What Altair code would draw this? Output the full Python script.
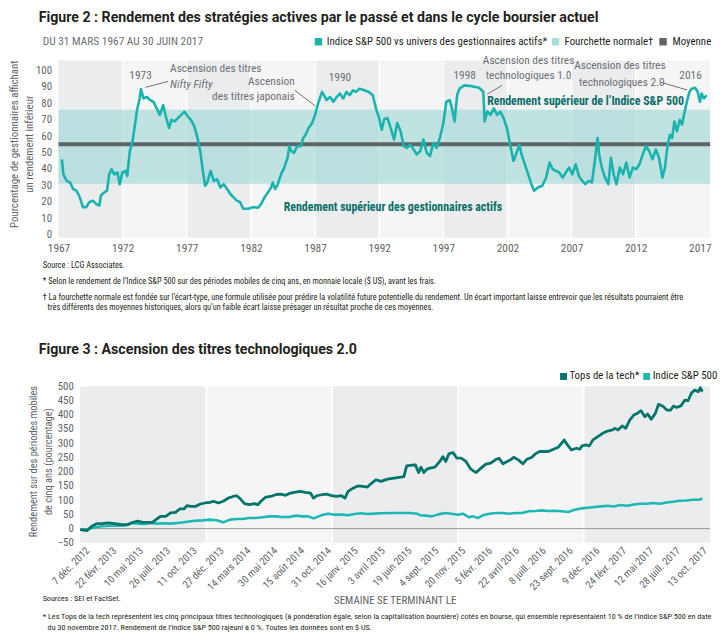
import json
import datetime as dt
import altair as alt
import pandas as pd

# ---------------- fonts / colours ----------------
NARROW = "Liberation Sans Narrow, Roboto Condensed, DejaVu Sans Condensed, Arial Narrow, sans-serif"
HEAD = "Roboto, Liberation Sans, Arial, sans-serif"
INK = "#231f20"
GRAY = "#5f6469"
ANN = "#6b7076"
TEAL = "#19b3ad"
TEAL_TXT = "#0a6e68"
TECH = "#00756b"
SPX = "#1db8b3"
BG_DARK = "#ebecee"
BG_LIGHT = "#f5f5f5"
BAND = "#93d3d1"
MEAN_C = "#5f6469"

# ---------------- Figure 2 data ----------------
fig2_years = [
    1967.26, 1967.38, 1967.64, 1967.90, 1968.15, 1968.40, 1968.66, 1968.90, 1969.17, 1969.40,
    1969.68, 1969.93, 1970.19, 1970.30, 1970.57, 1970.78, 1970.95, 1971.13, 1971.34, 1971.60,
    1971.77, 1971.98, 1972.23, 1972.36, 1972.56, 1972.77, 1973.00, 1973.12, 1973.33, 1973.43,
    1973.63, 1973.89, 1974.14, 1974.40, 1974.65, 1974.90, 1975.16, 1975.37, 1975.62, 1975.80,
    1976.06, 1976.31, 1976.57, 1976.82, 1977.08, 1977.33, 1977.59, 1977.84, 1978.05, 1978.22,
    1978.43, 1978.60, 1978.86, 1979.10, 1979.37, 1979.62, 1979.88, 1980.14, 1980.40, 1980.65,
    1980.90, 1981.16, 1981.40, 1981.80, 1982.17, 1982.56, 1982.80, 1983.07, 1983.33, 1983.58,
    1983.70, 1983.89, 1984.10, 1984.35, 1984.60, 1984.86, 1985.00, 1985.16, 1985.37, 1985.60,
    1985.88, 1986.08, 1986.26, 1986.50, 1986.77, 1987.00, 1987.28, 1987.55, 1987.70, 1987.90,
    1988.17, 1988.43, 1988.70, 1988.93, 1989.20, 1989.45, 1989.70, 1989.96, 1990.20, 1990.47,
    1990.85, 1991.20, 1991.50, 1991.75, 1992.00, 1992.20, 1992.40, 1992.65, 1992.90, 1993.16,
    1993.41, 1993.67, 1993.92, 1994.18, 1994.43, 1994.69, 1994.94, 1995.20, 1995.45, 1995.71,
    1995.96, 1996.22, 1996.47, 1996.73, 1996.98, 1997.24, 1997.50, 1997.67, 1997.88, 1998.08,
    1998.26, 1998.64, 1999.03, 1999.41, 1999.79, 2000.12, 2000.22, 2000.43, 2000.68, 2000.94,
    2001.20, 2001.45, 2001.70, 2001.96, 2002.21, 2002.47, 2002.67, 2002.93, 2003.10, 2003.36,
    2003.62, 2003.87, 2004.08, 2004.38, 2004.72, 2005.02, 2005.28, 2005.53, 2005.79, 2006.04,
    2006.30, 2006.55, 2006.81, 2007.06, 2007.32, 2007.57, 2007.83, 2008.08, 2008.34, 2008.59,
    2008.85, 2009.03, 2009.15, 2009.36, 2009.61, 2009.87, 2010.07, 2010.28, 2010.50, 2010.76,
    2011.01, 2011.27, 2011.52, 2011.78, 2012.04, 2012.29, 2012.55, 2012.80, 2013.06, 2013.31,
    2013.57, 2013.82, 2014.08, 2014.28, 2014.46, 2014.66, 2014.84, 2015.02, 2015.22, 2015.43,
    2015.61, 2015.79, 2015.99, 2016.19, 2016.37, 2016.63, 2016.83, 2017.01, 2017.14, 2017.32,
    2017.52,
]
fig2_values = [
    45.8, 36.7, 32.7, 31.7, 27.7, 26.7, 22.7, 16.7, 16.7, 19.7,
    20.7, 18.7, 17.7, 23.7, 25.7, 26.7, 36.7, 39.8, 36.7, 37.8,
    30.7, 37.8, 38.8, 35.7, 50.8, 56.8, 68.9, 75.9, 82.9, 88.6,
    82.9, 83.9, 81.9, 80.9, 76.9, 72.9, 78.9, 71.9, 64.9, 69.9,
    68.9, 70.9, 72.9, 74.9, 71.9, 69.9, 65.9, 58.8, 50.8, 40.8,
    29.7, 31.7, 38.8, 32.7, 33.7, 28.7, 30.7, 27.7, 24.7, 22.7,
    20.7, 19.7, 15.7, 15.7, 16.7, 16.3, 18.7, 22.7, 25.7, 28.7,
    31.7, 27.7, 30.7, 36.7, 40.8, 46.8, 53.8, 50.8, 49.8, 53.8,
    53.8, 58.8, 60.8, 64.9, 67.9, 72.9, 80.9, 86.9, 84.9, 81.9,
    83.9, 80.9, 83.9, 85.9, 82.9, 86.9, 84.9, 87.9, 86.9, 88.9,
    87.9, 86.9, 84.9, 76.9, 70.9, 63.9, 70.4, 70.9, 64.9, 57.8,
    67.9, 62.9, 53.8, 52.8, 54.8, 51.8, 48.8, 50.8, 57.8, 49.8,
    47.8, 55.8, 52.8, 58.8, 66.9, 80.9, 81.9, 76.9, 68.9, 84.9,
    88.9, 90.9, 90.6, 90.0, 89.4, 87.0, 68.9, 74.9, 72.9, 76.9,
    72.9, 74.9, 70.9, 64.9, 54.8, 44.8, 48.8, 54.8, 48.8, 42.8,
    36.7, 30.7, 26.7, 28.7, 29.7, 34.7, 43.8, 39.8, 38.8, 37.8,
    34.7, 37.8, 40.8, 36.7, 42.8, 35.7, 32.7, 30.7, 32.7, 31.7,
    46.8, 58.8, 48.8, 40.8, 34.7, 30.7, 46.8, 36.7, 30.7, 40.8,
    36.7, 43.8, 34.7, 40.8, 39.8, 42.8, 48.8, 53.8, 50.8, 45.8,
    51.8, 46.8, 34.7, 40.8, 52.8, 60.8, 58.8, 68.9, 62.9, 69.9,
    66.9, 73.9, 80.9, 86.9, 88.9, 89.4, 87.0, 80.9, 85.9, 82.9,
    84.9,
]
band_edges = [1967, 1972, 1977, 1982, 1987, 1992, 1997, 2002, 2007, 2012, 2017.8]
band_shades = ["sombre", "clair"] * 5
normal_low, normal_high = 31, 76
mean_value = 55
year_ticks = [1967, 1972, 1977, 1982, 1987, 1992, 1997, 2002, 2007, 2012, 2017]
pct_ticks = [0, 10, 20, 30, 40, 50, 60, 70, 80, 90, 100]

# annotations (year, value)
ann_center = [
    ("1973", 1973.40, 96.4), ("1990", 1988.94, 95.2), ("1998", 1998.67, 96.4),
    ("Ascension des titres", 2003.65, 106.0), ("technologiques 1.0", 2003.65, 96.4),
    ("Ascension des titres", 2010.77, 102.4), ("technologiques 2.0", 2010.92, 92.1),
    ("2016", 2016.28, 96.4),
]
ann_left = [("Ascension des titres", 1975.70, 100.6)]
ann_italic = [("Nifty Fifty", 1975.70, 90.9)]
ann_right = [("Ascension", 1985.42, 92.7), ("des titres japonais", 1985.42, 83.7)]
ann_bold = [
    ("Rendement supérieur de l’Indice S&P 500", 2008.09, 81.3),
    ("Rendement supérieur des gestionnaires actifs", 1993.08, 16.7),
]
pointers = [
    (1973.78, 89.7, 1975.55, 93.3),
    (1985.42, 87.9, 1987.03, 78.3),
    (2000.43, 85.5, 2001.58, 90.9),
    (2013.96, 92.8, 2016.00, 88.1),
]

# ---------------- Figure 3 data ----------------
fig3_start = dt.date(2012, 11, 16)
tech_days = [
    0, 19, 33, 47, 61, 80, 99, 118, 136, 151, 165, 179, 193, 207, 217, 230, 245, 259, 273, 285,
    297, 306, 316, 330, 344, 358, 372, 382, 396, 410, 424, 438, 448, 457, 471, 485, 499, 509, 518, 532,
    546, 560, 575, 589, 603, 617, 631, 645, 660, 669, 678, 693, 707, 721, 735, 749, 759, 768, 782, 796,
    810, 823, 836, 848, 862, 881, 900, 919, 928, 936, 952, 961, 970, 977, 985, 994, 1003, 1017, 1031, 1040,
    1048, 1057, 1069, 1080, 1092, 1106, 1120, 1135, 1149, 1163, 1177, 1190, 1201, 1212, 1224, 1234, 1243, 1256, 1269, 1281,
    1295, 1305, 1317, 1330, 1342, 1357, 1371, 1388, 1397, 1408, 1423, 1432, 1439, 1451, 1460, 1470, 1484, 1498, 1512, 1526,
    1533, 1542, 1554, 1564, 1576, 1587, 1597, 1608, 1619, 1627, 1637, 1649, 1658, 1670, 1682, 1693, 1701, 1710, 1722, 1734,
    1743, 1753, 1762, 1772, 1778, 1784,
]
tech_values = [
    -3.5, -7, 8, 17.5, 17.5, 20, 17.5, 14, 14, 22, 26, 22, 22, 22, 31.5, 43, 43, 55, 57, 69,
    69, 80.5, 78, 78, 86.5, 90, 92, 96, 90, 96, 107, 113, 115.5, 107, 87.5, 84, 87.5, 84, 96, 111,
    113, 119, 121, 117, 125, 128, 131, 127, 125, 107, 115.5, 119, 121, 115.5, 113, 115.5, 107, 131, 142, 150,
    148, 146, 160, 171.6, 166, 174, 177.5, 181, 183, 220.7, 223, 224, 197, 216, 197, 209, 212.5, 216, 236, 253,
    236, 263, 267, 247.5, 247.5, 236, 209, 197, 212.5, 226.5, 230, 241.7, 247.5, 227.7, 236, 241.7, 251, 241.7, 227.7, 244,
    251, 262.7, 271, 271, 271, 279, 286, 311.7, 294, 276.7, 282.5, 279, 290.7, 294, 290.7, 311.7, 323, 335, 343, 346.8,
    352.6, 346.8, 360.8, 352.6, 381.8, 399, 405, 414.5, 393.5, 402.8, 384, 405, 436.7, 430.8, 416.8, 416.8, 430.8, 426, 430.8, 451.8,
    449.5, 477.5, 486.9, 481, 495, 481,
]
spx_days = [
    0, 19, 33, 61, 90, 118, 132, 146, 165, 184, 203, 221, 240, 259, 278, 297, 316, 334, 353, 372,
    391, 410, 429, 448, 466, 485, 504, 523, 542, 560, 579, 598, 617, 636, 654, 669, 683, 697, 711, 730,
    749, 768, 786, 805, 824, 843, 862, 890, 919, 947, 966, 975, 994, 1008, 1027, 1046, 1065, 1083, 1097, 1114,
    1126, 1140, 1154, 1173, 1192, 1211, 1229, 1248, 1267, 1286, 1305, 1323, 1342, 1361, 1380, 1399, 1417, 1436, 1455, 1474,
    1493, 1512, 1530, 1549, 1568, 1587, 1606, 1624, 1643, 1662, 1681, 1700, 1719, 1737, 1756, 1775, 1784,
]
spx_values = [
    -3.5, -3.5, 2, 8, 10.5, 10.5, 11.7, 20, 17.5, 16, 20, 17.5, 18.7, 17.5, 20, 22, 26, 28, 29, 31.5,
    29, 22, 31.5, 34, 34, 37, 37, 40, 43, 43, 41, 41, 45.5, 43, 43, 36, 43, 49, 52.5, 49,
    49, 46.7, 51.4, 53.7, 51.4, 52.5, 54, 55, 55, 55, 52.5, 46.7, 45.5, 43, 50, 55, 52.5, 49, 52.5, 40,
    43, 37, 46.7, 52.5, 55, 55, 52.5, 55, 55, 60.7, 62, 64, 62, 63, 60.7, 58.4, 66.5, 71, 73.5, 76,
    78, 80.5, 78, 83, 80.5, 85, 87.5, 87.5, 90, 87.5, 92, 94.6, 98, 99, 101.6, 101.6, 106,
]
fig3_band_edges = ["2012-11-16", "2013-11-12", "2014-11-08", "2015-11-04", "2016-10-30", "2017-10-27"]
fig3_band_shades = ["sombre", "clair", "sombre", "clair", "sombre"]
week_ticks = [
    "2012-12-07", "2013-02-22", "2013-05-10", "2013-07-26", "2013-10-11", "2013-12-27",
    "2014-03-14", "2014-05-30", "2014-08-15", "2014-10-31", "2015-01-16", "2015-04-03",
    "2015-06-19", "2015-09-04", "2015-11-20", "2016-02-05", "2016-04-22", "2016-07-08",
    "2016-09-23", "2016-12-09", "2017-02-24", "2017-05-12", "2017-07-28", "2017-10-13",
]
month_abbr = ["janv.", "févr.", "mars", "avril", "mai", "juin", "juill.", "août", "sept.", "oct.", "nov.", "déc."]
ret_ticks = [-50, 0, 50, 100, 150, 200, 250, 300, 350, 400, 450, 500]

assert len(fig2_years) == len(fig2_values)
assert len(tech_days) == len(tech_values)
assert len(spx_days) == len(spx_values)


def ms(s):
    d = dt.datetime.strptime(s, "%Y-%m-%d").replace(tzinfo=dt.timezone.utc)
    return int(d.timestamp() * 1000)


def iso(days):
    return [(fig3_start + dt.timedelta(days=d)).isoformat() for d in days]


def ptext(s, x, y, size=11, color=INK, weight="normal", align="left", font=NARROW, angle=0, style="normal"):
    return alt.Chart(alt.Data(values=[{"t": s}])).mark_text(
        align=align, baseline="middle", fontSize=size, color=color, fontWeight=weight,
        font=font, angle=angle, fontStyle=style,
    ).encode(x=alt.value(x), y=alt.value(y), text="t:N")


def psquare(x, y, color, size=56):
    return alt.Chart(alt.Data(values=[{"t": 1}])).mark_square(size=size, color=color, opacity=1).encode(
        x=alt.value(x), y=alt.value(y))


NOTE2 = 8.4
NOTE3 = 8.2

# ================= Figure 2 =================
W1, H1 = 658, 179
xs1 = alt.Scale(domain=[1967, 2017.8], nice=False, zero=False)
ys1 = alt.Scale(domain=[-2, 106], nice=False, zero=False)
XA1 = alt.Axis(values=year_ticks, format="d", title=None, ticks=False, domain=False, grid=False,
               labelFont=NARROW, labelFontSize=11.5, labelColor=GRAY, labelPadding=5,
               labelFlush=False, labelOverlap=False)
YA1 = alt.Axis(values=pct_ticks, title=None, ticks=False, domain=False, grid=False,
               labelFont=NARROW, labelFontSize=11, labelColor=GRAY, labelPadding=7)


def X1(f):
    return alt.X(f, scale=xs1, axis=XA1)


def Y1(f):
    return alt.Y(f, scale=ys1, axis=YA1)


df_b1 = pd.DataFrame({"start": band_edges[:-1], "end": band_edges[1:], "shade": band_shades})
df_sep1 = pd.DataFrame({"year": band_edges[1:-1]})
df_norm = pd.DataFrame({"x0": [band_edges[0]], "x1": [band_edges[-1]], "lo": [normal_low], "hi": [normal_high]})
df_mean = pd.DataFrame({"v": [mean_value]})
df_line1 = pd.DataFrame({"year": fig2_years, "value": fig2_values})
df_ptr = pd.DataFrame(pointers, columns=["x0", "y0", "x1", "y1"])

shade_scale = alt.Scale(domain=["sombre", "clair"], range=[BG_DARK, BG_LIGHT])

bands1 = alt.Chart(df_b1).mark_rect().encode(
    x=X1("start:Q"), x2="end:Q",
    y=alt.value(0), y2=alt.value(H1),
    color=alt.Color("shade:N", scale=shade_scale, legend=None),
)
sep1 = alt.Chart(df_sep1).mark_rule(color="white", strokeWidth=1.5).encode(x=X1("year:Q"))
norm = alt.Chart(df_norm).mark_rect(color=BAND, opacity=0.55).encode(
    x=X1("x0:Q"), x2="x1:Q", y=Y1("lo:Q"), y2="hi:Q")
mean = alt.Chart(df_mean).mark_rule(color=MEAN_C, strokeWidth=4).encode(y=Y1("v:Q"))
line1 = alt.Chart(df_line1).mark_line(color=TEAL, strokeWidth=2.6, strokeJoin="round").encode(
    x=X1("year:Q"), y=Y1("value:Q"))
ptr = alt.Chart(df_ptr).mark_rule(color=ANN, strokeWidth=1).encode(
    x=X1("x0:Q"), x2="x1:Q", y=Y1("y0:Q"), y2="y1:Q")


def ann_layer(rows, align, size=11.5, color=ANN, weight="normal", style="normal"):
    df = pd.DataFrame(rows, columns=["t", "x", "y"])
    return alt.Chart(df).mark_text(
        align=align, baseline="middle", font=NARROW, fontSize=size, color=color,
        fontWeight=weight, fontStyle=style,
    ).encode(x=X1("x:Q"), y=Y1("y:Q"), text="t:N")


fig2_layers = [
    bands1, sep1, norm, mean, line1, ptr,
    ann_layer(ann_center, "center"),
    ann_layer(ann_left, "left"),
    ann_layer(ann_italic, "left", style="italic"),
    ann_layer(ann_right, "right"),
    ann_layer(ann_bold, "center", size=12, color=TEAL_TXT, weight="bold"),
    # outside texts
    ptext("Figure 2 : Rendement des stratégies actives par le passé et dans le cycle boursier actuel",
          -20, -43, size=14.3, weight="bold", font=HEAD),
    ptext("DU 31 MARS 1967 AU 30 JUIN 2017", -16, -19, size=11.5, color=ANN),
    psquare(262.5, -19, TEAL),
    ptext("Indice S&P 500 vs univers des gestionnaires actifs*", 271, -19, size=11),
    psquare(502, -19, "#a9dcda"),
    ptext("Fourchette normale†", 511, -19, size=11),
    psquare(610.5, -19, MEAN_C),
    ptext("Moyenne", 620, -19, size=11),
    ptext("Pourcentage de gestionnaires affichant", -44, 84.5, size=11, color=GRAY, align="center", angle=270),
    ptext("un rendement inférieur", -28.5, 84.5, size=11, color=GRAY, align="center", angle=270),
    ptext("Source : LCG Associates.", -16, 206, size=NOTE2),
    ptext("* Selon le rendement de l’Indice S&P 500 sur des périodes mobiles de cinq ans, en monnaie locale ($ US), avant les frais.",
          -16, 223, size=NOTE2),
    ptext("† La fourchette normale est fondée sur l’écart-type, une formule utilisée pour prédire la volatilité future potentielle du rendement. Un écart important laisse entrevoir que les résultats pourraient être",
          -16, 239, size=NOTE2),
    ptext("très différents des moyennes historiques, alors qu’un faible écart laisse présager un résultat proche de ces moyennes.",
          -11, 249, size=NOTE2),
]
fig2 = alt.layer(*fig2_layers).properties(width=W1, height=H1)

# ================= Figure 3 =================
W2, H2 = 658, 158
xs2 = alt.Scale(type="utc", domain=[ms(fig3_band_edges[0]), ms(fig3_band_edges[-1])], range=[22, W2], nice=False)
ys2 = alt.Scale(domain=[-50, 500], nice=False, zero=False)

label_expr = (
    "utcdate(datum.value) + ' ' + " + json.dumps(month_abbr, ensure_ascii=False)
    + "[utcmonth(datum.value)] + ' ' + utcyear(datum.value)"
)
XA2 = alt.Axis(values=[ms(s) for s in week_ticks], labelExpr=label_expr, labelAngle=315,
               labelAlign="right", labelBaseline="middle", labelPadding=6,
               labelFont=NARROW, labelFontSize=10.5, labelColor=GRAY, title=None,
               ticks=False, domain=False, grid=False, labelFlush=False, labelOverlap=False)
YA2 = alt.Axis(values=ret_ticks, offset=-22, title=None, ticks=False, domain=False, grid=False,
               labelFont=NARROW, labelFontSize=11, labelColor=GRAY, labelPadding=7)


def X2(f):
    return alt.X(f, scale=xs2, axis=XA2)


def Y2(f):
    return alt.Y(f, scale=ys2, axis=YA2)


df_b2 = pd.DataFrame({"start": fig3_band_edges[:-1], "end": fig3_band_edges[1:], "shade": fig3_band_shades})
df_sep2 = pd.DataFrame({"d": fig3_band_edges[1:-1]})
df_zero = pd.DataFrame({"v": [0], "a": [fig3_band_edges[0]], "b": [fig3_band_edges[-1]]})
df_tech = pd.DataFrame({"date": iso(tech_days), "value": tech_values})
df_spx = pd.DataFrame({"date": iso(spx_days), "value": spx_values})

bands2 = alt.Chart(df_b2).mark_rect().encode(
    x=X2("start:T"), x2="end:T",
    y=alt.value(0), y2=alt.value(H2),
    color=alt.Color("shade:N", scale=shade_scale, legend=None),
)
sep2 = alt.Chart(df_sep2).mark_rule(color="white", strokeWidth=1.5).encode(x=X2("d:T"))
zero = alt.Chart(df_zero).mark_rule(color="#9a9a9a", strokeWidth=1).encode(
    x=X2("a:T"), x2="b:T", y=Y2("v:Q"))
spx_line = alt.Chart(df_spx).mark_line(color=SPX, strokeWidth=2.6, strokeJoin="round").encode(
    x=X2("date:T"), y=Y2("value:Q"))
tech_line = alt.Chart(df_tech).mark_line(color=TECH, strokeWidth=2.8, strokeJoin="round").encode(
    x=X2("date:T"), y=Y2("value:Q"))

fig3_layers = [
    bands2, sep2, zero, spx_line, tech_line,
    ptext("Figure 3 : Ascension des titres technologiques 2.0", -20, -37, size=14.3, weight="bold", font=HEAD),
    psquare(510, -10, TECH, size=49),
    ptext("Tops de la tech*", 516, -10, size=11),
    psquare(594, -10, SPX, size=49),
    ptext("Indice S&P 500", 600, -10, size=11),
    ptext("Rendement sur des périodes mobiles", -25, 76, size=10.5, color=GRAY, align="center", angle=270),
    ptext("de cinq ans (pourcentage)", -10, 76, size=10.5, color=GRAY, align="center", angle=270),
    ptext("SEMAINE SE TERMINANT LE", 340, 217, size=11, color=GRAY, align="center"),
    ptext("Sources : SEI et FactSet.", -16, 215, size=NOTE3),
    ptext("* Les Tops de la tech représentent les cinq principaux titres technologiques (à pondération égale, selon la capitalisation boursière) cotés en bourse, qui ensemble représentaient 10 % de l’indice S&P 500 en date",
          -16, 233, size=NOTE3),
    ptext("du 30 novembre 2017. Rendement de l’indice S&P 500 rajeuni à 0 %. Toutes les données sont en $ US.",
          -11, 244, size=NOTE3),
]
fig3 = alt.layer(*fig3_layers).properties(width=W2, height=H2)

chart = alt.vconcat(fig2, fig3, spacing=150, bounds="flush").properties(
    padding=0, background="white"
).configure_view(strokeWidth=0)

chart.save("out.html", embed_options={"renderer": "svg", "actions": False})
